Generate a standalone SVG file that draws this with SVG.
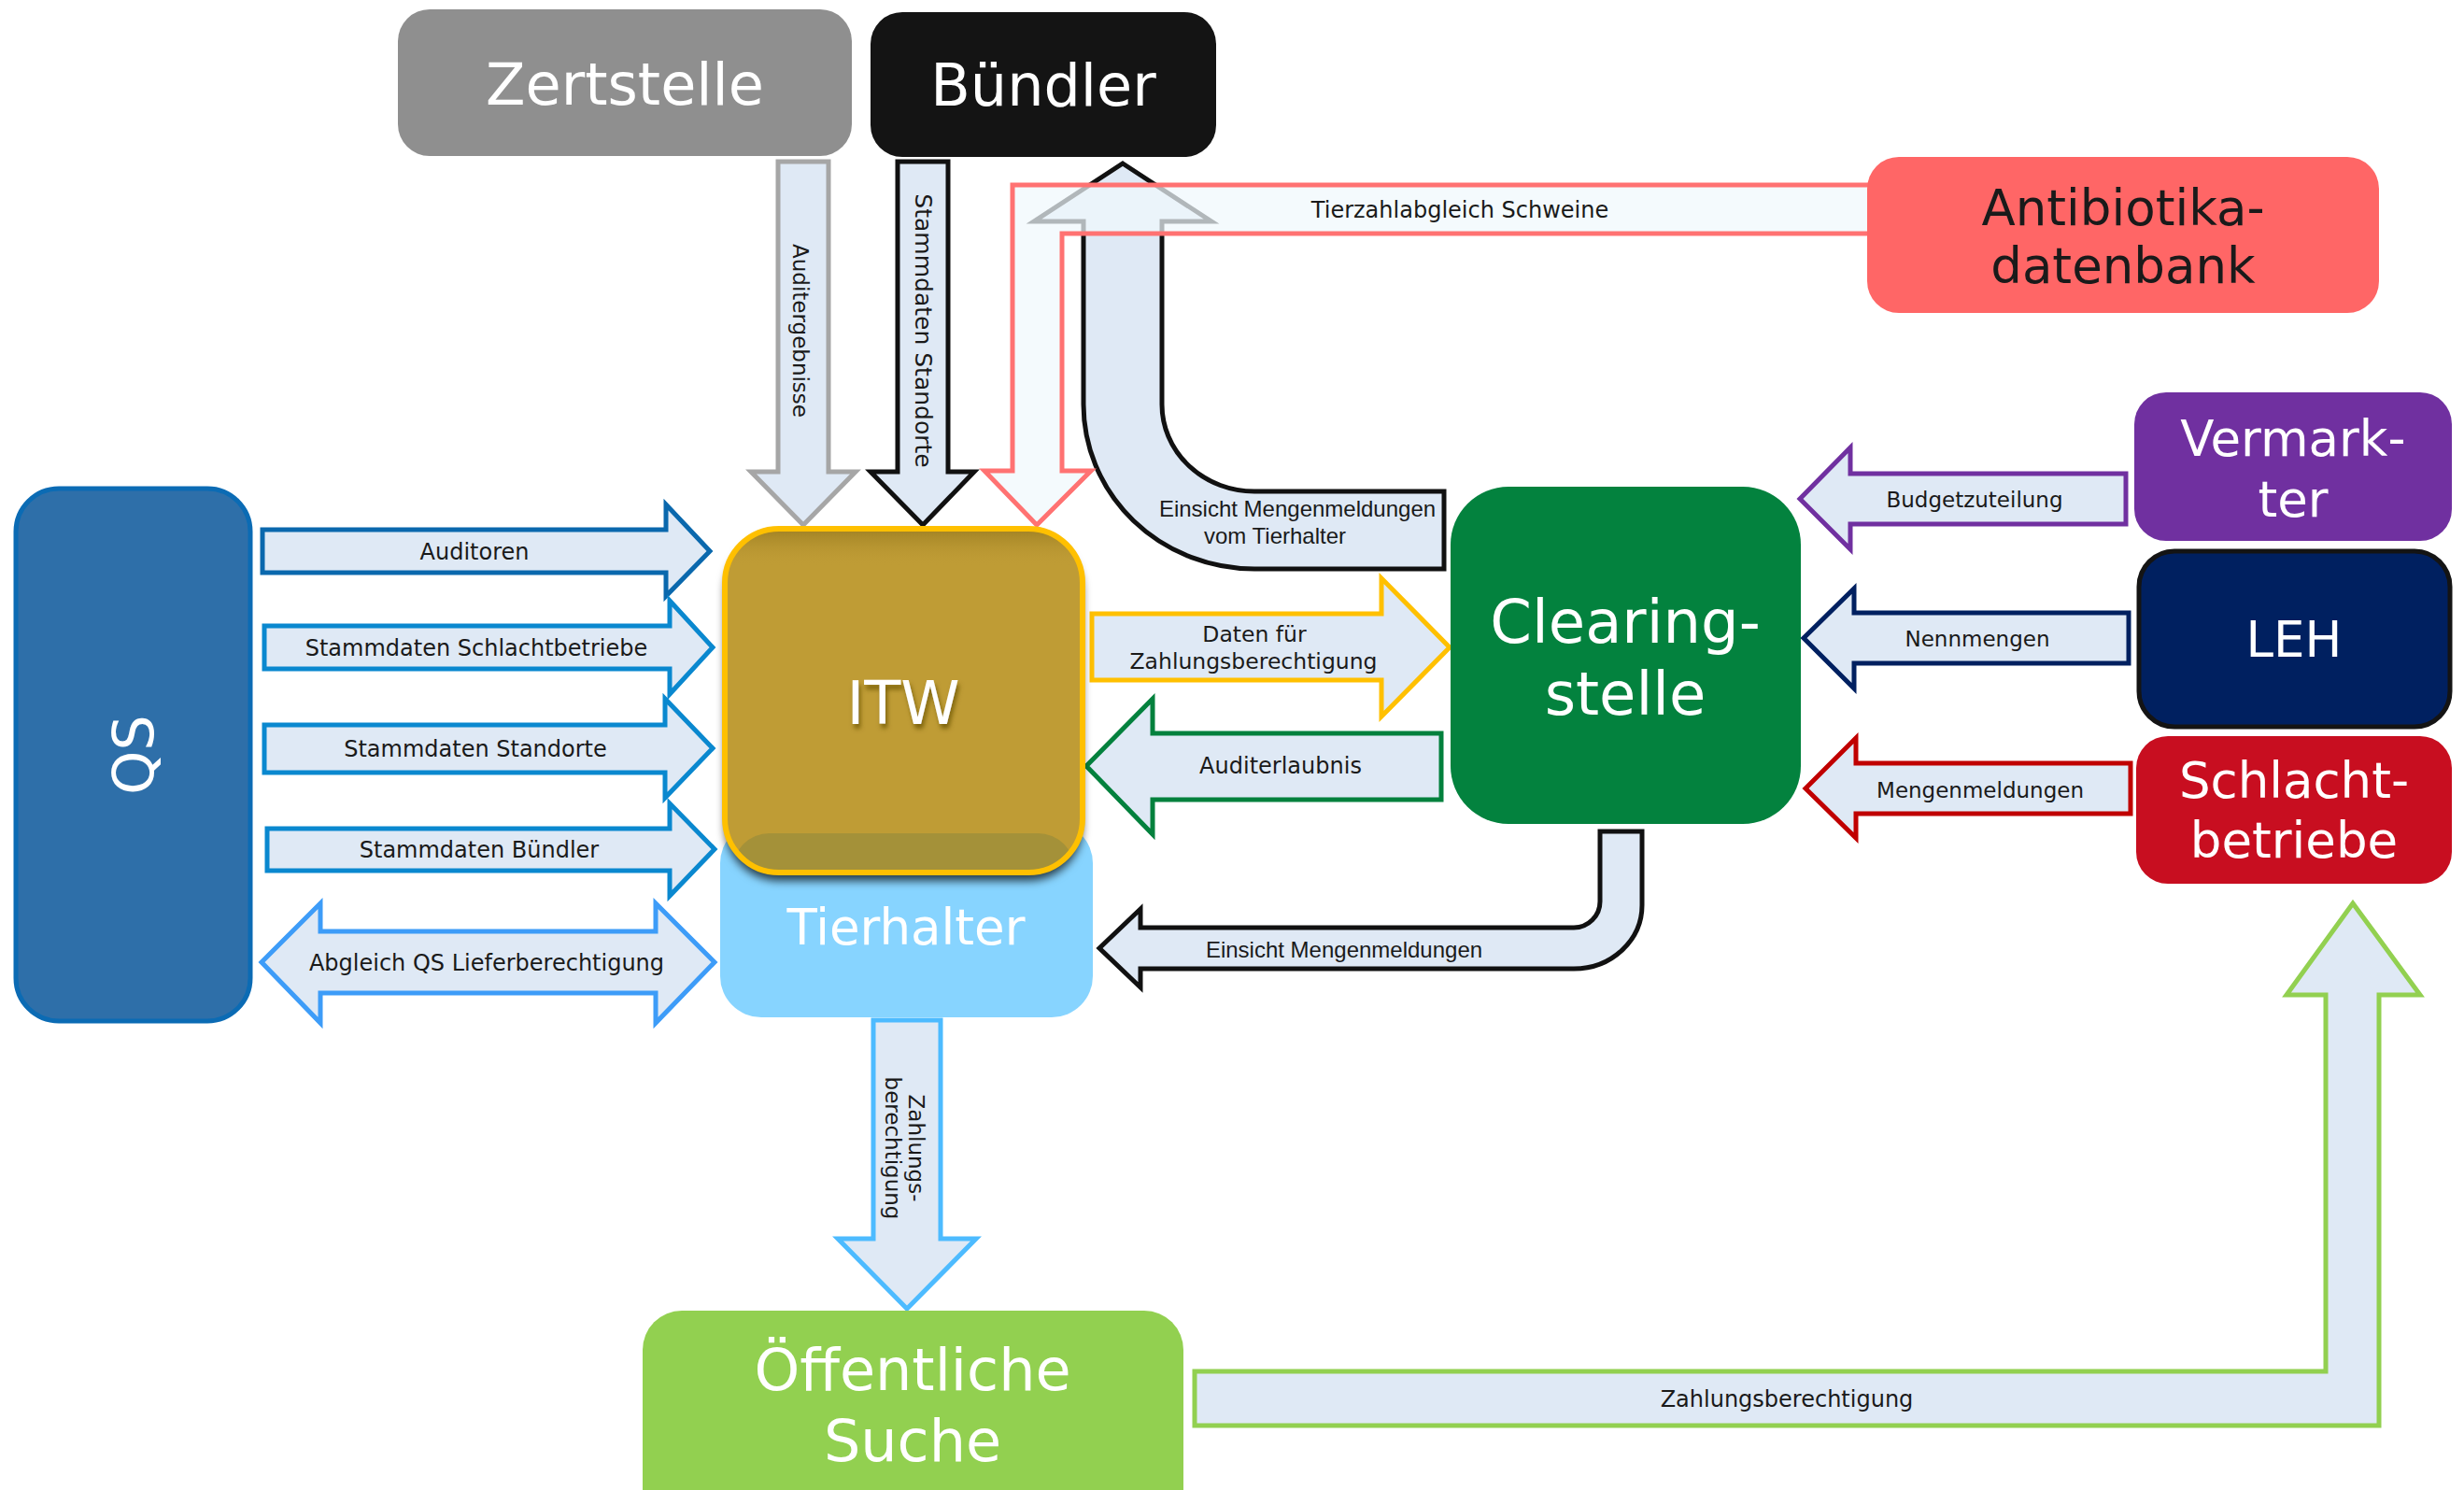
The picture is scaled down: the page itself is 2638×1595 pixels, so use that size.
<svg xmlns="http://www.w3.org/2000/svg" width="2638" height="1595" viewBox="0 0 2638 1595">
<defs>
<style>
.arr{fill:#dfe9f5;stroke-width:5;stroke-linejoin:miter;stroke-miterlimit:10}
.lbl{font-family:"DejaVu Sans",Verdana,sans-serif;font-size:24px;fill:#1a1a1a;text-anchor:middle}
.arl{font-family:"Liberation Sans",Arial,sans-serif;font-size:24px;fill:#1a1a1a;text-anchor:middle}
.big{font-family:"DejaVu Sans",Verdana,sans-serif;fill:#ffffff;text-anchor:middle}
</style>
<filter id="shadow" x="-10%" y="-10%" width="120%" height="130%">
<feDropShadow dx="0" dy="9" stdDeviation="5" flood-color="#000" flood-opacity="0.7"/>
</filter>
<filter id="tshadow" x="-20%" y="-20%" width="140%" height="160%">
<feDropShadow dx="2" dy="5" stdDeviation="2.5" flood-color="#6b5300" flood-opacity="0.8"/>
</filter>
<clipPath id="itwclip"><rect x="776" y="566" width="383" height="368" rx="58"/></clipPath>
<linearGradient id="itwtop" x1="0" y1="0" x2="0" y2="1">
<stop offset="0" stop-color="#9a7c20" stop-opacity="0.85"/>
<stop offset="1" stop-color="#bf9c36" stop-opacity="0"/>
</linearGradient>
</defs>
<rect x="0" y="0" width="2638" height="1595" fill="#ffffff"/>

<g id="connectors">
<polygon class="arr" stroke="#0a68ad" points="281,567 713,567 713,540 760,590 713,638 713,613 281,613"/>
<text class="lbl" x="508" y="599">Auditoren</text>
<polygon class="arr" stroke="#0a88cf" points="283,670 717,670 717,643 763,693 717,743 717,716 283,716"/>
<text class="lbl" x="510" y="702">Stammdaten Schlachtbetriebe</text>
<polygon class="arr" stroke="#0a88cf" points="283,776 712,776 712,748 763,801 712,854 712,827 283,827"/>
<text class="lbl" x="509" y="810">Stammdaten Standorte</text>
<polygon class="arr" stroke="#0a88cf" points="286,887 717,887 717,860 765,909 717,959 717,932 286,932"/>
<text class="lbl" x="513" y="918">Stammdaten Bündler</text>
<polygon class="arr" stroke="#3d9cf8" points="280,1030 343,967 343,997 702,997 702,967 765,1030 702,1095 702,1063 343,1063 343,1095"/>
<text class="lbl" x="521" y="1039">Abgleich QS Lieferberechtigung</text>

<polygon class="arr" stroke="#a6a6a6" points="833,173 887,173 887,505 916,505 860,562 804,505 833,505"/>
<text class="lbl" dominant-baseline="central" transform="translate(857,354) rotate(90)" style="font-size:23px">Auditergebnisse</text>
<polygon class="arr" stroke="#111111" points="961,173 1015,173 1015,505 1043,505 988,562 932,505 961,505"/>
<text class="lbl" dominant-baseline="central" transform="translate(988,354) rotate(90)" style="font-size:25px">Stammdaten Standorte</text>

<path class="arr" stroke="#111111" d="M1202,175 L1297,237 L1244,237 L1244,433 A99,93 0 0 0 1343,526 L1546,526 L1546,609 L1343,609 A183,176 0 0 1 1160,433 L1160,237 L1107,237 Z"/>
<text class="arl" x="1389" y="553">Einsicht Mengenmeldungen</text>
<text class="arl" x="1365" y="582">vom Tierhalter</text>

<path fill="#f0f8fc" fill-opacity="0.72" stroke="#ff7272" stroke-width="5" stroke-linejoin="miter" d="M2005,198 L1084,198 L1084,504 L1054,504 L1110,562 L1168,504 L1137,504 L1137,250 L2005,250"/>
<text class="lbl" x="1563" y="233">Tierzahlabgleich Schweine</text>

<polygon class="arr" stroke="#ffc000" points="1169,657 1479,657 1479,619 1552,693 1479,767 1479,728 1169,728"/>
<text class="lbl" x="1343" y="687" style="font-size:23.5px">Daten für</text>
<text class="lbl" x="1342" y="716" style="font-size:23.5px">Zahlungsberechtigung</text>
<polygon class="arr" stroke="#03813d" points="1163,820 1234,748 1234,785 1543,785 1543,856 1234,856 1234,893"/>
<text class="lbl" x="1371" y="828">Auditerlaubnis</text>

<path class="arr" stroke="#111111" d="M1713,890 L1713,965 A28,28 0 0 1 1685,993 L1221,993 L1221,973 L1177,1015 L1221,1057 L1221,1037 L1685,1037 A73,68 0 0 0 1758,969 L1758,890 Z"/>
<text class="arl" x="1439" y="1025">Einsicht Mengenmeldungen</text>

<polygon class="arr" stroke="#4dbbff" points="935,1092 1007,1092 1007,1326 1045,1326 971,1401 897,1326 935,1326"/>
<text class="lbl" dominant-baseline="central" transform="translate(969,1229) rotate(90)" style="font-size:23px"><tspan x="0" y="-12">Zahlungs-</tspan><tspan x="0" y="13">berechtigung</tspan></text>

<polygon class="arr" stroke="#92d050" points="1279,1468 2490,1468 2490,1065 2448,1065 2519,967 2591,1065 2547,1065 2547,1526 1279,1526"/>
<text class="lbl" x="1913" y="1506">Zahlungsberechtigung</text>

<polygon class="arr" stroke="#7030a0" stroke-width="4" points="1927,534 1981,479 1981,507 2276,507 2276,561 1981,561 1981,588"/>
<text class="lbl" x="2114" y="543" style="font-size:23px">Budgetzuteilung</text>
<polygon class="arr" stroke="#002060" stroke-width="4" points="1931,683 1985,630 1985,656 2279,656 2279,710 1985,710 1985,737"/>
<text class="lbl" x="2117" y="692" style="font-size:23px">Nennmengen</text>
<polygon class="arr" stroke="#c00000" stroke-width="4" points="1933,844 1987,790 1987,817 2281,817 2281,871 1987,871 1987,897"/>
<text class="lbl" x="2120" y="854" style="font-size:23px">Mengenmeldungen</text>
</g>

<g id="node-zertstelle">
<rect x="426" y="10" width="486" height="157" rx="34" fill="#8f8f8f"/>
<text class="big" x="669" y="112" style="font-size:62px">Zertstelle</text>
</g>
<g id="node-buendler">
<rect x="932" y="13" width="370" height="155" rx="34" fill="#141414"/>
<text class="big" x="1117" y="113" style="font-size:62px">Bündler</text>
</g>
<g id="node-antibiotika">
<rect x="1999" y="168" width="548" height="167" rx="34" fill="#ff6666"/>
<text class="big" x="2273" y="241" style="font-size:53px;fill:#1a1a1a">Antibiotika-</text>
<text class="big" x="2273" y="303" style="font-size:53px;fill:#1a1a1a">datenbank</text>
</g>
<g id="node-vermarkter">
<rect x="2285" y="420" width="340" height="159" rx="34" fill="#7030a0"/>
<text class="big" x="2455" y="488" style="font-size:53px">Vermark-</text>
<text class="big" x="2455" y="553" style="font-size:53px">ter</text>
</g>
<g id="node-leh">
<rect x="2290" y="590" width="333" height="188" rx="38" fill="#002060" stroke="#141414" stroke-width="5"/>
<text class="big" x="2456" y="703" style="font-size:53px">LEH</text>
</g>
<g id="node-schlachtbetriebe">
<rect x="2287" y="788" width="338" height="158" rx="34" fill="#c80e20"/>
<text class="big" x="2456" y="854" style="font-size:53px">Schlacht-</text>
<text class="big" x="2456" y="918" style="font-size:53px">betriebe</text>
</g>
<g id="node-clearingstelle">
<rect x="1553" y="521" width="375" height="361" rx="62" fill="#03823e"/>
<text class="big" x="1740" y="688" style="font-size:64px">Clearing-</text>
<text class="big" x="1740" y="765" style="font-size:64px">stelle</text>
</g>
<g id="node-qs">
<rect x="17" y="523" width="251" height="570" rx="46" fill="#2e6fa9" stroke="#0b6bb4" stroke-width="5"/>
<text class="big" dominant-baseline="central" transform="translate(143,808) rotate(-90)" style="font-size:60px">QS</text>
</g>
<g id="node-tierhalter">
<rect x="771" y="880" width="399" height="209" rx="44" fill="#87d4ff"/>
<text class="big" x="970" y="1011" style="font-size:53px">Tierhalter</text>
</g>
<g id="node-itw">
<rect x="776" y="566" width="383" height="368" rx="58" fill="#bf9c36" filter="url(#shadow)"/>
<g clip-path="url(#itwclip)">
<rect x="776" y="566" width="383" height="40" fill="url(#itwtop)"/>
<rect x="784" y="892" width="367" height="80" rx="40" fill="#a49139"/>
</g>
<rect x="776" y="566" width="383" height="368" rx="58" fill="none" stroke="#ffc000" stroke-width="6"/>
<text class="big" x="967" y="775" style="font-size:64px" filter="url(#tshadow)">ITW</text>
</g>
<g id="node-oeffentliche-suche">
<rect x="688" y="1403" width="579" height="240" rx="42" fill="#92d050"/>
<text class="big" x="977" y="1488" style="font-size:62px">Öffentliche</text>
<text class="big" x="977" y="1564" style="font-size:62px">Suche</text>
</g>
</svg>
